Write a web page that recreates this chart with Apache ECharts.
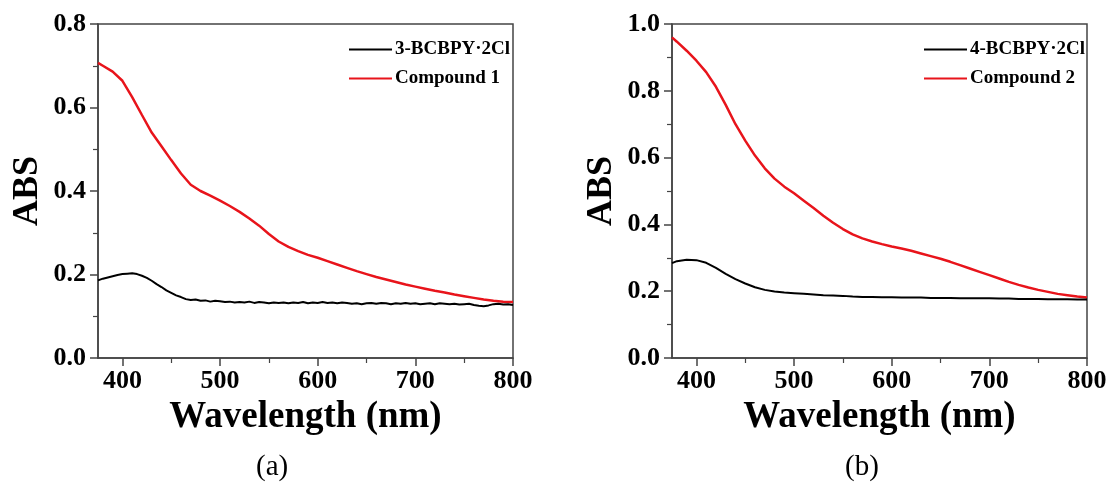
<!DOCTYPE html>
<html>
<head>
<meta charset="utf-8">
<script src="https://cdn.jsdelivr.net/npm/echarts@6/dist/echarts.min.js"></script>
<style>
html,body{margin:0;padding:0;background:#fff;}
#c{width:1112px;height:487px;}
</style>
</head>
<body>
<div id="c"></div>
<script>
// ---- Data ----
const xTicks = [400, 500, 600, 700, 800];
const xMinorTicks = [450, 550, 650, 750];

// Panel (a)
const wlRedA = [375,380,390,400,410,420,430,440,450,460,470,480,490,500,510,520,530,540,550,560,570,580,590,600,610,620,630,640,650,660,670,680,690,700,710,720,730,740,750,760,770,780,790,800];
const compound1 = [0.707,0.700,0.686,0.664,0.625,0.582,0.540,0.507,0.474,0.442,0.415,0.400,0.389,0.377,0.364,0.350,0.334,0.317,0.297,0.279,0.266,0.256,0.247,0.240,0.232,0.224,0.216,0.208,0.201,0.194,0.188,0.182,0.176,0.171,0.166,0.161,0.157,0.152,0.148,0.144,0.140,0.137,0.135,0.134];

const wlBlackA = [375,380,385,390,395,400,405,410,415,420,425,430,435,440,445,450,455,460,465,470,475,480,485,490,495,500,505,510,515,520,525,530,535,540,545,550,555,560,565,570,575,580,585,590,595,600,605,610,615,620,625,630,635,640,645,650,655,660,665,670,675,680,685,690,695,700,705,710,715,720,725,730,735,740,745,750,755,760,765,770,775,780,785,790,795,800];
const bcbpy3 = [0.186,0.190,0.193,0.196,0.199,0.201,0.202,0.203,0.201,0.197,0.192,0.185,0.177,0.170,0.162,0.156,0.150,0.146,0.141,0.139,0.140,0.137,0.138,0.135,0.137,0.136,0.134,0.135,0.133,0.134,0.133,0.135,0.132,0.134,0.133,0.131,0.133,0.132,0.133,0.131,0.133,0.132,0.134,0.131,0.133,0.132,0.134,0.132,0.133,0.131,0.133,0.132,0.130,0.131,0.129,0.131,0.132,0.130,0.132,0.131,0.129,0.131,0.130,0.132,0.130,0.131,0.129,0.130,0.131,0.129,0.131,0.130,0.129,0.130,0.128,0.129,0.130,0.127,0.125,0.124,0.126,0.129,0.130,0.128,0.129,0.127];

// Panel (b)
const wlB = [375,380,390,400,410,420,430,440,450,460,470,480,490,500,510,520,530,540,550,560,570,580,590,600,610,620,630,640,650,660,670,680,690,700,710,720,730,740,750,760,770,780,790,800];
const compound2 = [0.960,0.947,0.920,0.890,0.856,0.812,0.758,0.700,0.651,0.606,0.568,0.537,0.513,0.493,0.471,0.449,0.426,0.405,0.386,0.370,0.358,0.349,0.341,0.334,0.328,0.321,0.313,0.305,0.297,0.288,0.278,0.268,0.258,0.248,0.238,0.228,0.219,0.211,0.204,0.198,0.192,0.188,0.184,0.181];
const bcbpy4 = [0.284,0.290,0.294,0.293,0.285,0.270,0.252,0.236,0.223,0.212,0.204,0.199,0.196,0.194,0.192,0.190,0.188,0.187,0.186,0.184,0.183,0.183,0.182,0.182,0.181,0.181,0.181,0.180,0.180,0.180,0.179,0.179,0.179,0.179,0.178,0.178,0.177,0.177,0.177,0.176,0.176,0.176,0.175,0.175];

const namesA = ['3-BCBPY·2Cl', 'Compound 1'];
const namesB = ['4-BCBPY·2Cl', 'Compound 2'];
const panelLabels = ['(a)', '(b)'];

// ---- Chart ----
const zip = (xs, ys) => xs.map((x, i) => [x, ys[i]]);
const FONT = '"Liberation Serif","Times New Roman",serif';
const AX = '#444';

const grids = [
  {left: 98, top: 24, width: 415, height: 334},
  {left: 672, top: 24, width: 415, height: 334}
];

function xAxes(gi) {
  return [
    {
      type: 'value', gridIndex: gi, min: 375, max: 800,
      name: 'Wavelength (nm)', nameLocation: 'middle', nameGap: 38,
      nameTextStyle: {fontFamily: FONT, fontWeight: 'bold', fontSize: 37, color: '#000'},
      axisLine: {show: true, onZero: false, lineStyle: {color: AX, width: 1.5}},
      axisTick: {show: true, inside: false, length: 8, customValues: xTicks, lineStyle: {color: AX, width: 1.5}},
      axisLabel: {show: true, margin: 10, customValues: xTicks, fontFamily: FONT, fontWeight: 'bold', fontSize: 26, color: '#000'},
      splitLine: {show: false}
    },
    {
      type: 'value', gridIndex: gi, min: 375, max: 800, position: 'bottom',
      axisLine: {show: false, onZero: false},
      axisTick: {show: true, inside: false, length: 5, customValues: xMinorTicks, lineStyle: {color: AX, width: 1.2}},
      axisLabel: {show: false},
      splitLine: {show: false}
    }
  ];
}
function yAxis(gi, max) {
  return {
    type: 'value', gridIndex: gi, min: 0, max: max, interval: 0.2,
    name: 'ABS', nameLocation: 'middle', nameGap: 52, nameRotate: 90,
    nameTextStyle: {fontFamily: FONT, fontWeight: 'bold', fontSize: 36, color: '#000'},
    axisLine: {show: true, onZero: false, lineStyle: {color: AX, width: 1.5}},
    axisTick: {show: true, inside: false, length: 8, lineStyle: {color: AX, width: 1.5}},
    minorTick: {show: true, splitNumber: 2, length: 5, lineStyle: {color: AX, width: 1.2}},
    axisLabel: {margin: 12, fontFamily: FONT, fontWeight: 'bold', fontSize: 26, color: '#000', formatter: v => v.toFixed(1)},
    splitLine: {show: false}, minorSplitLine: {show: false}
  };
}

const legendStyle = {
  orient: 'vertical', itemWidth: 43, itemHeight: 14, itemGap: 10,
  textStyle: {fontFamily: FONT, fontWeight: 'bold', fontSize: 19, color: '#000', padding: [0, 0, 0, -2]},
  icon: 'path://M0,6 L43,6 L43,8 L0,8 Z'
};

function line(name, data, color, width, xi, yi) {
  return {type: 'line', name, data, xAxisIndex: xi, yAxisIndex: yi, symbol: 'none', showSymbol: false,
    lineStyle: {color, width}, itemStyle: {color}, animation: false, z: color === '#000' ? 3 : 2};
}

const option = {
  animation: false,
  backgroundColor: '#fff',
  grid: grids.map(g => Object.assign({show: true, borderColor: AX, borderWidth: 1.5, backgroundColor: 'transparent'}, g)),
  xAxis: [...xAxes(0), ...xAxes(1)],
  yAxis: [yAxis(0, 0.8), yAxis(1, 1.0)],
  legend: [
    Object.assign({data: namesA, left: 344, top: 35}, legendStyle),
    Object.assign({data: namesB, left: 919, top: 35}, legendStyle)
  ],
  series: [
    line(namesA[0], zip(wlBlackA, bcbpy3), '#000', 2, 0, 0),
    line(namesA[1], zip(wlRedA, compound1), '#e8141b', 2.5, 0, 0),
    line(namesB[0], zip(wlB, bcbpy4), '#000', 2, 2, 1),
    line(namesB[1], zip(wlB, compound2), '#e8141b', 2.5, 2, 1)
  ],
  graphic: [
    {type: 'text', left: 256, top: 453, style: {text: panelLabels[0], fontFamily: FONT, fontSize: 29, fill: '#000'}},
    {type: 'text', left: 845, top: 453, style: {text: panelLabels[1], fontFamily: FONT, fontSize: 29, fill: '#000'}}
  ]
};

const chart = echarts.init(document.getElementById('c'), null, {renderer: 'canvas'});
chart.setOption(option);
</script>
</body>
</html>
